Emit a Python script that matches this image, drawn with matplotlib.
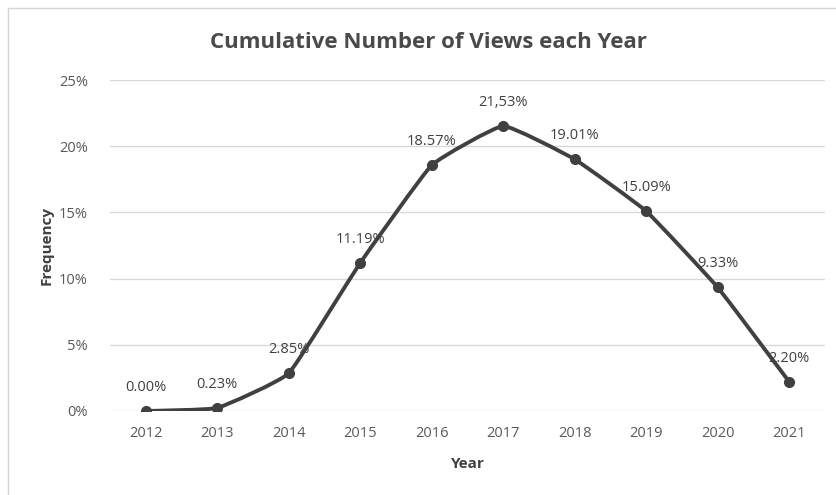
import matplotlib
matplotlib.use("Agg")
import matplotlib.pyplot as plt
from matplotlib.path import Path
from matplotlib.patches import PathPatch, Rectangle
from matplotlib.ticker import FuncFormatter

plt.rcParams['font.family'] = ['Open Sans', 'DejaVu Sans']

# data
years = ['2012', '2013', '2014', '2015', '2016', '2017', '2018', '2019', '2020', '2021']
freq = [0.00, 0.23, 2.85, 11.19, 18.57, 21.53, 19.01, 15.09, 9.33, 2.20]
labels = ['0.00%', '0.23%', '2.85%', '11.19%', '18.57%', '21,53%', '19.01%', '15.09%', '9.33%', '2.20%']

line_col = '#404040'
text_col = '#595959'
grid_col = '#d9d9d9'

fig = plt.figure(figsize=(8.37, 4.95), dpi=100)
ax = fig.add_axes([110 / 837, 1 - 411 / 495, 715 / 837, 331 / 495])

# outer chart border (clipped on right/bottom like the screenshot)
fig.patches.append(Rectangle((8 / 837, -0.1), 1.1, 1 - 8 / 495 + 0.1,
                             transform=fig.transFigure, fill=False,
                             edgecolor='#d4d4d4', linewidth=1))

x = list(range(len(years)))

# lightly smoothed line like Excel (bezier through the points)
verts = [(x[0], freq[0])]
codes = [Path.MOVETO]
n = len(x)
t = 0.055
for i in range(n - 1):
    p0 = (x[i - 1], freq[i - 1]) if i > 0 else (x[i], freq[i])
    p1 = (x[i], freq[i])
    p2 = (x[i + 1], freq[i + 1])
    p3 = (x[i + 2], freq[i + 2]) if i + 2 < n else p2
    c1 = (p1[0] + (p2[0] - p0[0]) * t, p1[1] + (p2[1] - p0[1]) * t)
    c2 = (p2[0] - (p3[0] - p1[0]) * t, p2[1] - (p3[1] - p1[1]) * t)
    verts += [c1, c2, p2]
    codes += [Path.CURVE4] * 3
ax.add_patch(PathPatch(Path(verts, codes), facecolor='none', edgecolor=line_col,
                       linewidth=2.8, capstyle='round', joinstyle='round', zorder=3))
ax.plot(x, freq, linestyle='none', marker='o', markersize=7, color=line_col, zorder=4)

for xi, yi, lab in zip(x, freq, labels):
    ax.annotate(lab, (xi, yi), xytext=(0, 17), textcoords='offset points',
                ha='center', va='center', fontsize=10.5, color=line_col, zorder=2)

ax.set_xlim(-0.5, n - 0.5)
ax.set_ylim(0, 25)
ax.set_yticks([0, 5, 10, 15, 20, 25])
ax.yaxis.set_major_formatter(FuncFormatter(lambda v, p: f"{v:.0f}%"))
ax.set_xticks(x)
ax.set_xticklabels(years)
ax.tick_params(length=0, labelsize=10.5, labelcolor=text_col)
ax.tick_params(axis='y', pad=16)
ax.tick_params(axis='x', pad=11)
ax.grid(axis='y', color=grid_col, linewidth=1)
ax.set_axisbelow(True)
for s in ax.spines.values():
    s.set_visible(False)

ax.set_xlabel('Year', fontsize=11, fontweight='bold', color='#404040', labelpad=11)
ax.set_ylabel('Frequency', fontsize=11, fontweight='bold', color='#404040', labelpad=4)
fig.text(428 / 837, 1 - 42 / 495, 'Cumulative Number of Views each Year',
         ha='center', va='center', fontsize=16, fontweight='bold', color='#4a4a4a')

fig.savefig('out.png', dpi=100)
